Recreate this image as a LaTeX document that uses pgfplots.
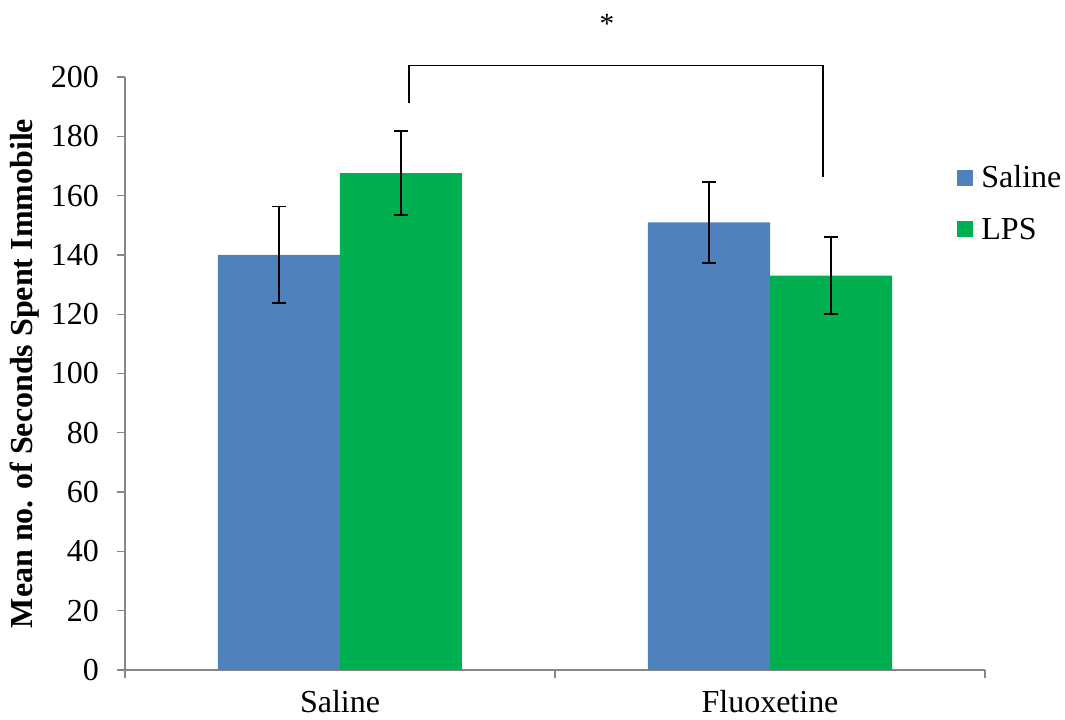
\documentclass[border=0pt]{standalone}
\usepackage{pgfplots}
\pgfplotsset{compat=1.18}
\usepackage{fontspec}
\setmainfont{Liberation Serif}
\definecolor{cblue}{HTML}{4F81BD}
\definecolor{cgreen}{HTML}{00B050}
\definecolor{axgray}{HTML}{868686}
\begin{document}
\begin{tikzpicture}
\begin{axis}[
  at={(0,0)}, anchor=south west,
  scale only axis, width=645pt, height=444.75pt,
  xmin=-0.5, xmax=1.5, ymin=0, ymax=200,
  axis x line*=bottom, axis y line*=left,
  axis line style={axgray, line width=1pt, -},
  clip=false,
  /pgf/number format/assume math mode=true,
  ytick={0,20,...,200},
  xtick={0,1}, xticklabels={Saline,Fluoxetine},
  extra x ticks={-0.5,0.5,1.5}, extra x tick labels={},
  major x tick style={draw=none},
  extra x tick style={major x tick style={draw=axgray, line width=1pt}},
  tick align=outside, major tick length=6pt,
  ytick style={axgray, line width=1pt},
  yticklabel style={font=\fontsize{24}{28}\selectfont, xshift=-10pt},
  xticklabel style={font=\fontsize{24}{28}\selectfont, yshift=-6pt},
  ylabel={\bfseries Mean no. of Seconds Spent Immobile},
  ylabel style={font=\fontsize{24}{28}\selectfont, yshift=2pt},
  ybar=0pt, bar width=91.5pt,
  legend style={draw=none, fill=none, at={(0.963,0.86)}, anchor=north west,
    font=\fontsize{24}{28}\selectfont, row sep=17pt,
    legend cell align=left},
]
\addplot[fill=cblue, draw=none,
  error bars/.cd, y dir=both, y explicit,
  error bar style={black, line width=1.3pt},
  error mark options={rotate=90, mark size=5pt, black, line width=1.3pt},
  /pgfplots/legend image code/.code={\fill[cblue] (0pt,-6pt) rectangle (12pt,6pt); \path (0pt,0pt) -- (16pt,0pt);}]
  coordinates {(0,140) +- (0,16.3) (1,151) +- (0,13.7)};
\addplot[fill=cgreen, draw=none,
  error bars/.cd, y dir=both, y explicit,
  error bar style={black, line width=1.3pt},
  error mark options={rotate=90, mark size=5pt, black, line width=1.3pt},
  /pgfplots/legend image code/.code={\fill[cgreen] (0pt,-6pt) rectangle (12pt,6pt); \path (0pt,0pt) -- (16pt,0pt);}]
  coordinates {(0,167.6) +- (0,14.2) (1,133) +- (0,13)};
\legend{Saline, LPS}
\draw[black, line width=1.2pt] (axis cs:0.1605,191.3) -- (axis cs:0.1605,203.9) -- (axis cs:1.123,203.9) -- (axis cs:1.123,166.4);
\node[font=\fontsize{22}{26}\selectfont] at (axis cs:0.621,218) {*};
\end{axis}
\pgfresetboundingbox
\path[use as bounding box] (-93.75pt,-37.5pt) rectangle (705pt,502.5pt);
\end{tikzpicture}
\end{document}
